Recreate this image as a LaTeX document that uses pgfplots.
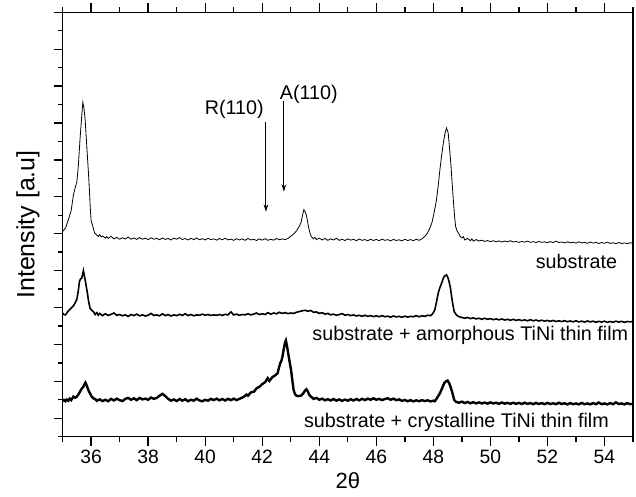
\documentclass[border=0pt]{standalone}
\usepackage{fontspec}
\setmainfont{Liberation Sans}
\usepackage{pgfplots}
\pgfplotsset{compat=1.18}
\usetikzlibrary{arrows.meta,calc}

\begin{document}
\begin{tikzpicture}
\begin{axis}[
  name=ax,
  width=427.8pt, height=318.3pt, scale only axis,
  xmin=35, xmax=55, ymin=0, ymax=23,
  xtick={36,38,...,54}, minor xtick={35,37,...,55},
  ytick={1,3,...,23}, minor ytick={0,2,...,22},
  yticklabels=\empty,
  tick align=outside, ytick pos=left,
  major tick length=6.75pt, minor tick length=3.75pt,
  axis line style={line width=1.1pt},
  every tick/.style={black, line width=1pt},
  /pgf/number format/assume math mode=true,
  tick label style={font=\fontsize{14.5pt}{17pt}\selectfont},
  xlabel={2θ}, ylabel={Intensity [a.u]},
  x label style={font=\fontsize{16.5pt}{19pt}\selectfont, at={(axis description cs:0.5,-0.084)}, anchor=north, inner sep=0pt},
  y label style={font=\fontsize{18.7pt}{22pt}\selectfont, at={(axis description cs:-0.040,0.5)}, anchor=south, inner sep=0pt},
  clip=true,
]
% substrate
\addplot[black, line width=0.6pt] coordinates {
(35.00,11.12)(35.10,11.30)(35.20,11.75)(35.30,12.25)(35.38,13.10)(35.45,13.55)(35.50,13.80)(35.55,14.65)(35.61,16.10)(35.67,17.36)(35.71,18.12)(35.75,17.80)(35.79,17.18)(35.83,16.20)(35.87,15.19)(35.91,14.20)(35.94,13.39)(35.97,12.40)(36.00,11.70)(36.06,11.39)(36.12,11.05)(36.20,10.92)(36.25,10.85)(36.30,10.95)(36.35,10.82)(36.40,10.88)(36.50,10.76)(36.55,10.84)(36.60,10.74)(36.70,10.86)(36.80,10.72)(36.90,10.80)(37.00,10.70)(37.10,10.78)(37.20,10.71)(37.30,10.82)(37.40,10.70)(37.50,10.77)(37.60,10.69)(37.70,10.79)(37.80,10.70)(37.90,10.76)(38.00,10.68)(38.10,10.78)(38.20,10.70)(38.30,10.75)(38.40,10.67)(38.50,10.77)(38.60,10.69)(38.70,10.74)(38.80,10.66)(38.90,10.76)(39.00,10.70)(39.10,10.79)(39.20,10.68)(39.30,10.74)(39.40,10.66)(39.50,10.75)(39.60,10.68)(39.70,10.77)(39.80,10.67)(39.90,10.73)(40.00,10.66)(40.10,10.75)(40.20,10.68)(40.30,10.72)(40.40,10.65)(40.50,10.74)(40.60,10.67)(40.70,10.76)(40.80,10.66)(40.90,10.71)(41.00,10.64)(41.10,10.73)(41.20,10.66)(41.30,10.72)(41.40,10.64)(41.50,10.74)(41.60,10.66)(41.70,10.70)(41.80,10.63)(41.90,10.72)(42.00,10.65)(42.10,10.73)(42.20,10.64)(42.30,10.70)(42.40,10.65)(42.50,10.74)(42.60,10.67)(42.70,10.72)(42.80,10.68)(42.90,10.74)(43.00,10.86)(43.10,10.98)(43.20,11.15)(43.30,11.40)(43.36,11.60)(43.42,12.05)(43.46,12.30)(43.50,12.20)(43.54,12.05)(43.58,11.75)(43.62,11.39)(43.67,11.05)(43.72,10.85)(43.80,10.72)(43.85,10.80)(43.90,10.68)(44.00,10.76)(44.10,10.66)(44.20,10.74)(44.30,10.64)(44.40,10.72)(44.50,10.66)(44.60,10.75)(44.70,10.64)(44.80,10.70)(44.90,10.63)(45.00,10.72)(45.10,10.65)(45.20,10.70)(45.30,10.62)(45.40,10.71)(45.50,10.64)(45.60,10.68)(45.70,10.62)(45.80,10.70)(45.90,10.63)(46.00,10.69)(46.10,10.62)(46.20,10.70)(46.30,10.64)(46.40,10.68)(46.50,10.61)(46.60,10.69)(46.70,10.63)(46.80,10.67)(46.90,10.61)(47.00,10.70)(47.10,10.63)(47.20,10.68)(47.30,10.62)(47.40,10.70)(47.50,10.64)(47.60,10.72)(47.70,10.85)(47.80,11.05)(47.88,11.31)(47.95,11.60)(48.00,11.94)(48.06,12.40)(48.11,12.84)(48.17,13.60)(48.23,14.47)(48.29,15.25)(48.35,15.92)(48.41,16.45)(48.46,16.73)(48.52,16.46)(48.57,15.60)(48.62,14.65)(48.66,13.70)(48.70,12.84)(48.74,12.00)(48.78,11.39)(48.83,11.15)(48.88,11.04)(48.94,10.85)(49.00,10.77)(49.05,10.84)(49.10,10.66)(49.20,10.74)(49.30,10.62)(49.35,10.72)(49.40,10.60)(49.50,10.68)(49.60,10.60)(49.70,10.65)(49.80,10.58)(49.90,10.63)(50.00,10.57)(50.10,10.62)(50.20,10.56)(50.30,10.61)(50.40,10.55)(50.50,10.60)(50.60,10.56)(50.70,10.62)(50.80,10.55)(50.90,10.58)(51.00,10.53)(51.10,10.58)(51.20,10.54)(51.30,10.60)(51.40,10.53)(51.50,10.57)(51.60,10.52)(51.70,10.58)(51.80,10.53)(51.90,10.56)(52.00,10.51)(52.10,10.57)(52.20,10.52)(52.30,10.60)(52.40,10.52)(52.50,10.55)(52.60,10.50)(52.70,10.56)(52.80,10.51)(52.90,10.54)(53.00,10.49)(53.10,10.56)(53.20,10.50)(53.30,10.53)(53.40,10.48)(53.50,10.55)(53.60,10.49)(53.70,10.53)(53.80,10.47)(53.90,10.52)(54.00,10.48)(54.10,10.54)(54.20,10.47)(54.30,10.51)(54.40,10.46)(54.50,10.52)(54.60,10.47)(54.70,10.50)(54.80,10.46)(54.90,10.51)(55.00,10.48)
};
% substrate + amorphous TiNi
\addplot[black, line width=1.2pt] coordinates {
(35.00,6.70)(35.05,6.62)(35.10,6.60)(35.15,6.70)(35.20,6.82)(35.26,6.91)(35.32,7.00)(35.38,7.09)(35.44,7.25)(35.50,7.45)(35.55,7.90)(35.59,8.41)(35.63,8.55)(35.67,8.59)(35.70,8.80)(35.73,9.00)(35.76,8.75)(35.79,8.50)(35.83,8.15)(35.87,7.78)(35.91,7.35)(35.96,6.97)(36.02,6.85)(36.08,6.78)(36.14,6.62)(36.20,6.72)(36.25,6.58)(36.30,6.68)(36.40,6.56)(36.50,6.66)(36.60,6.57)(36.70,6.63)(36.80,6.70)(36.90,6.58)(37.00,6.62)(37.10,6.55)(37.20,6.60)(37.30,6.52)(37.40,6.62)(37.50,6.56)(37.60,6.64)(37.70,6.55)(37.80,6.60)(37.90,6.54)(38.00,6.58)(38.10,6.68)(38.20,6.57)(38.30,6.60)(38.40,6.55)(38.50,6.66)(38.60,6.56)(38.70,6.62)(38.80,6.54)(38.90,6.60)(39.00,6.56)(39.10,6.63)(39.20,6.57)(39.30,6.66)(39.40,6.56)(39.50,6.62)(39.60,6.55)(39.70,6.60)(39.80,6.58)(39.90,6.64)(40.00,6.58)(40.10,6.62)(40.20,6.57)(40.30,6.60)(40.40,6.58)(40.50,6.62)(40.60,6.57)(40.70,6.63)(40.80,6.60)(40.90,6.76)(41.00,6.60)(41.10,6.64)(41.20,6.58)(41.30,6.62)(41.40,6.60)(41.50,6.66)(41.60,6.60)(41.70,6.64)(41.80,6.70)(41.90,6.62)(42.00,6.66)(42.10,6.62)(42.20,6.72)(42.30,6.64)(42.40,6.70)(42.50,6.66)(42.60,6.74)(42.70,6.68)(42.80,6.72)(42.90,6.67)(43.00,6.70)(43.10,6.68)(43.20,6.74)(43.30,6.78)(43.40,6.82)(43.50,6.85)(43.60,6.80)(43.70,6.84)(43.80,6.74)(43.90,6.76)(44.00,6.68)(44.10,6.72)(44.20,6.64)(44.30,6.68)(44.40,6.60)(44.50,6.64)(44.60,6.58)(44.70,6.62)(44.80,6.67)(44.90,6.58)(45.00,6.62)(45.10,6.56)(45.20,6.60)(45.30,6.54)(45.40,6.58)(45.50,6.52)(45.60,6.58)(45.70,6.52)(45.80,6.56)(45.90,6.51)(46.00,6.55)(46.10,6.50)(46.20,6.56)(46.30,6.50)(46.40,6.53)(46.50,6.48)(46.60,6.54)(46.70,6.49)(46.80,6.52)(46.90,6.47)(47.00,6.53)(47.10,6.48)(47.20,6.52)(47.30,6.50)(47.40,6.56)(47.50,6.50)(47.60,6.55)(47.70,6.52)(47.80,6.58)(47.90,6.56)(47.95,6.62)(48.00,6.72)(48.05,6.87)(48.11,7.30)(48.17,7.78)(48.23,8.08)(48.29,8.32)(48.34,8.55)(48.38,8.68)(48.46,8.77)(48.51,8.62)(48.55,8.41)(48.60,8.05)(48.64,7.60)(48.68,7.20)(48.73,6.78)(48.78,6.66)(48.82,6.58)(48.90,6.50)(49.00,6.46)(49.10,6.42)(49.20,6.46)(49.30,6.40)(49.40,6.44)(49.50,6.38)(49.60,6.42)(49.70,6.36)(49.80,6.42)(49.90,6.36)(50.00,6.40)(50.10,6.34)(50.20,6.38)(50.30,6.33)(50.40,6.38)(50.50,6.32)(50.60,6.36)(50.70,6.31)(50.80,6.36)(50.90,6.30)(51.00,6.34)(51.10,6.29)(51.20,6.33)(51.30,6.28)(51.40,6.34)(51.50,6.28)(51.60,6.32)(51.70,6.27)(51.80,6.31)(51.90,6.26)(52.00,6.30)(52.10,6.25)(52.20,6.30)(52.30,6.24)(52.40,6.28)(52.50,6.24)(52.60,6.29)(52.70,6.23)(52.80,6.27)(52.90,6.22)(53.00,6.28)(53.10,6.22)(53.20,6.26)(53.30,6.21)(53.40,6.27)(53.50,6.22)(53.60,6.26)(53.70,6.20)(53.80,6.25)(53.90,6.21)(54.00,6.26)(54.10,6.20)(54.20,6.24)(54.30,6.20)(54.40,6.26)(54.50,6.21)(54.60,6.25)(54.70,6.20)(54.80,6.24)(54.90,6.22)(55.00,6.25)
};
% substrate + crystalline TiNi
\addplot[black, line width=1.8pt] coordinates {
(35.00,1.94)(35.05,1.99)(35.10,1.92)(35.15,2.01)(35.20,1.95)(35.25,2.06)(35.30,1.98)(35.38,2.17)(35.44,2.11)(35.50,2.17)(35.56,2.30)(35.61,2.44)(35.67,2.60)(35.73,2.71)(35.77,2.85)(35.80,2.93)(35.84,2.80)(35.90,2.53)(35.96,2.35)(36.02,2.17)(36.08,2.08)(36.15,2.03)(36.20,1.94)(36.30,2.02)(36.40,1.93)(36.50,2.00)(36.60,1.92)(36.70,2.05)(36.80,1.96)(36.90,2.06)(37.00,1.98)(37.10,1.93)(37.20,2.05)(37.30,2.10)(37.40,2.00)(37.50,2.08)(37.60,1.98)(37.70,2.10)(37.80,2.02)(37.90,2.06)(38.00,2.00)(38.10,2.12)(38.20,2.05)(38.30,2.10)(38.40,2.22)(38.50,2.32)(38.60,2.20)(38.70,2.05)(38.80,1.95)(38.90,2.02)(39.00,1.93)(39.10,2.04)(39.20,1.95)(39.30,2.03)(39.40,1.92)(39.50,2.00)(39.60,1.95)(39.70,2.06)(39.80,1.96)(39.90,1.92)(40.00,2.00)(40.10,1.95)(40.20,2.05)(40.30,1.98)(40.40,2.06)(40.50,1.97)(40.60,2.04)(40.70,1.96)(40.80,2.05)(40.90,1.98)(41.00,2.06)(41.10,1.98)(41.20,2.05)(41.30,2.12)(41.36,2.17)(41.45,2.28)(41.50,2.22)(41.60,2.40)(41.71,2.44)(41.80,2.62)(41.90,2.70)(42.00,2.85)(42.10,2.95)(42.19,3.17)(42.25,3.02)(42.35,3.22)(42.45,3.32)(42.54,3.44)(42.58,3.70)(42.63,3.98)(42.67,4.10)(42.71,4.34)(42.76,4.80)(42.80,5.10)(42.83,5.21)(42.87,4.90)(42.91,4.52)(42.96,4.05)(43.01,3.62)(43.06,3.00)(43.10,2.53)(43.15,2.30)(43.20,2.22)(43.28,2.20)(43.36,2.22)(43.44,2.35)(43.50,2.50)(43.55,2.57)(43.60,2.45)(43.65,2.26)(43.72,2.15)(43.80,2.05)(43.90,2.10)(44.00,2.00)(44.10,2.06)(44.20,1.97)(44.30,2.03)(44.40,1.96)(44.50,2.04)(44.60,1.95)(44.70,2.02)(44.80,1.94)(44.90,2.01)(45.00,1.95)(45.10,2.03)(45.20,1.96)(45.30,2.04)(45.40,1.97)(45.50,2.05)(45.60,1.98)(45.70,2.06)(45.80,2.00)(45.90,2.08)(46.00,2.00)(46.10,2.05)(46.20,1.98)(46.30,2.04)(46.40,2.08)(46.50,2.00)(46.60,2.06)(46.70,1.98)(46.80,2.02)(46.90,1.94)(47.00,1.99)(47.10,1.92)(47.20,1.98)(47.30,1.91)(47.40,1.97)(47.50,1.92)(47.60,1.98)(47.70,1.93)(47.80,1.97)(47.90,1.91)(48.00,1.95)(48.05,1.92)(48.11,2.05)(48.17,2.20)(48.23,2.35)(48.30,2.60)(48.38,2.90)(48.44,3.00)(48.50,3.04)(48.56,2.88)(48.62,2.62)(48.68,2.30)(48.73,1.99)(48.80,1.88)(48.90,1.84)(49.00,1.90)(49.10,1.82)(49.20,1.88)(49.30,1.81)(49.40,1.87)(49.50,1.80)(49.60,1.86)(49.70,1.80)(49.80,1.85)(49.90,1.79)(50.00,1.86)(50.10,1.80)(50.20,1.84)(50.30,1.78)(50.40,1.85)(50.50,1.79)(50.60,1.83)(50.70,1.78)(50.80,1.84)(50.90,1.78)(51.00,1.83)(51.10,1.77)(51.20,1.84)(51.30,1.78)(51.40,1.82)(51.50,1.76)(51.60,1.83)(51.70,1.77)(51.80,1.82)(51.90,1.76)(52.00,1.83)(52.10,1.77)(52.20,1.81)(52.30,1.76)(52.40,1.84)(52.50,1.77)(52.60,1.81)(52.70,1.75)(52.80,1.82)(52.90,1.76)(53.00,1.80)(53.10,1.75)(53.20,1.83)(53.30,1.76)(53.40,1.80)(53.50,1.75)(53.60,1.82)(53.70,1.76)(53.80,1.85)(53.90,1.76)(54.00,1.80)(54.10,1.75)(54.20,1.82)(54.30,1.76)(54.40,1.86)(54.50,1.77)(54.60,1.80)(54.70,1.75)(54.80,1.82)(54.90,1.76)(55.00,1.78)
};
% peak markers
\draw[-{Stealth[length=5.5pt,width=3.5pt]}, line width=0.7pt] (axis cs:42.13,17.07) -- (axis cs:42.13,12.19);
\draw[-{Stealth[length=5.5pt,width=3.5pt]}, line width=0.7pt] (axis cs:42.76,18.21) -- (axis cs:42.76,13.28);
\node[anchor=base east, inner sep=0pt, font=\fontsize{14.8pt}{17pt}\selectfont] at (axis cs:42.06,17.45) {R(110)};
\node[anchor=base west, inner sep=0pt, font=\fontsize{14.8pt}{17pt}\selectfont] at (axis cs:42.61,18.27) {A(110)};
% curve labels
\node[anchor=base east, inner sep=0pt, font=\fontsize{14.8pt}{17pt}\selectfont] at (axis cs:54.45,9.14) {substrate};
\node[anchor=base east, inner sep=0pt, font=\fontsize{14.8pt}{17pt}\selectfont] at (axis cs:54.84,5.21) {substrate + amorphous TiNi thin film};
\node[anchor=base east, inner sep=0pt, font=\fontsize{14.8pt}{17pt}\selectfont] at (axis cs:54.16,0.51) {substrate + crystalline TiNi thin film};
\end{axis}
\pgfresetboundingbox
\path ($(ax.south west)+(-46.95pt,-45.2pt)$) rectangle ($(ax.north east)+(2.25pt,9.2pt)$);
\end{tikzpicture}
\end{document}
